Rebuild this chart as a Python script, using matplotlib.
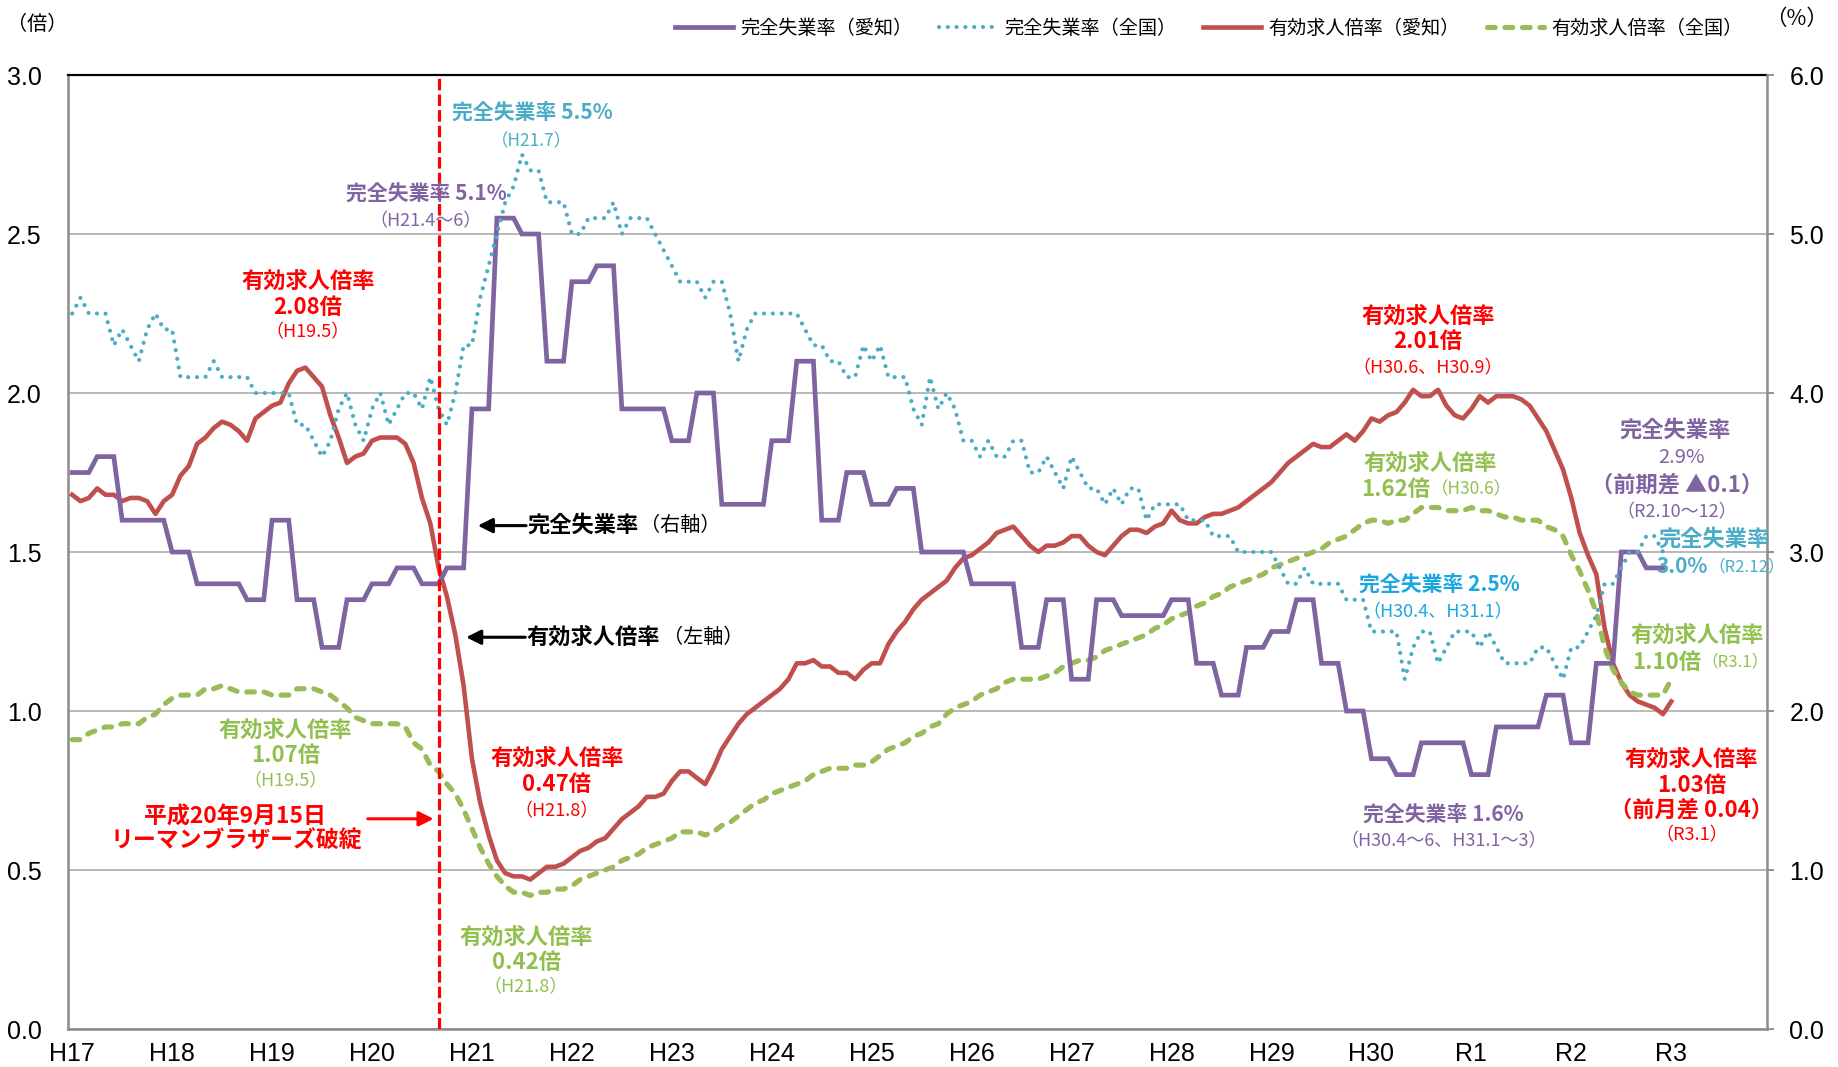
import numpy as np
import matplotlib
matplotlib.use("Agg")
import matplotlib.pyplot as plt
from matplotlib.lines import Line2D

plt.rcParams['font.family'] = ['Noto Sans CJK JP', 'DejaVu Sans']
NUM_FONT = ['Liberation Sans Narrow', 'Liberation Sans', 'DejaVu Sans']

# ── データ ──────────────────────────────────────────────
year_labels = ["H17", "H18", "H19", "H20", "H21", "H22", "H23", "H24", "H25",
               "H26", "H27", "H28", "H29", "H30", "R1", "R2", "R3"]

# 完全失業率（愛知） 四半期  H17.1-3 ～ R2.10-12 (%)
aichi_unemp_q = [3.5, 3.6, 3.2, 3.2, 3.0, 2.8, 2.8, 2.7, 3.2, 2.7, 2.4, 2.7,
                 2.8, 2.9, 2.8, 2.9, 3.9, 5.1, 5.0, 4.2, 4.7, 4.8, 3.9, 3.9,
                 3.7, 4.0, 3.3, 3.3, 3.7, 4.2, 3.2, 3.5, 3.3, 3.4, 3.0, 3.0,
                 2.8, 2.8, 2.4, 2.7, 2.2, 2.7, 2.6, 2.6, 2.7, 2.3, 2.1, 2.4,
                 2.5, 2.7, 2.3, 2.0, 1.7, 1.6, 1.8, 1.8, 1.6, 1.9, 1.9, 2.1,
                 1.8, 2.3, 3.0, 2.9]

# 完全失業率（全国） 月次 H17.1 ～ R2.12 (%)
nat_unemp = [4.5, 4.6, 4.5, 4.5, 4.5, 4.3, 4.4, 4.3, 4.2, 4.4, 4.5, 4.4,
             4.4, 4.1, 4.1, 4.1, 4.1, 4.2, 4.1, 4.1, 4.1, 4.1, 4.0, 4.0,
             4.0, 4.0, 4.0, 3.8, 3.8, 3.7, 3.6, 3.7, 3.9, 4.0, 3.8, 3.7,
             3.9, 4.0, 3.8, 3.9, 4.0, 4.0, 3.9, 4.1, 3.9, 3.8, 4.0, 4.3,
             4.3, 4.6, 4.8, 5.0, 5.2, 5.3, 5.5, 5.4, 5.4, 5.2, 5.2, 5.2,
             5.0, 5.0, 5.1, 5.1, 5.1, 5.2, 5.0, 5.1, 5.1, 5.1, 5.0, 4.9,
             4.8, 4.7, 4.7, 4.7, 4.6, 4.7, 4.7, 4.5, 4.2, 4.4, 4.5, 4.5,
             4.5, 4.5, 4.5, 4.5, 4.4, 4.3, 4.3, 4.2, 4.2, 4.1, 4.1, 4.3,
             4.2, 4.3, 4.1, 4.1, 4.1, 3.9, 3.8, 4.1, 3.9, 4.0, 3.9, 3.7,
             3.7, 3.6, 3.7, 3.6, 3.6, 3.7, 3.7, 3.5, 3.5, 3.6, 3.5, 3.4,
             3.6, 3.5, 3.4, 3.4, 3.3, 3.4, 3.3, 3.4, 3.4, 3.2, 3.3, 3.3,
             3.3, 3.3, 3.2, 3.2, 3.2, 3.1, 3.1, 3.1, 3.0, 3.0, 3.0, 3.0,
             3.0, 2.9, 2.8, 2.8, 2.9, 2.8, 2.8, 2.8, 2.8, 2.7, 2.7, 2.7,
             2.5, 2.5, 2.5, 2.5, 2.2, 2.4, 2.5, 2.5, 2.3, 2.4, 2.5, 2.5,
             2.5, 2.4, 2.5, 2.4, 2.3, 2.3, 2.3, 2.3, 2.4, 2.4, 2.3, 2.2,
             2.4, 2.4, 2.5, 2.6, 2.8, 2.8, 2.9, 3.0, 3.0, 3.1, 3.1, 3.0]

# 有効求人倍率（愛知） 月次 H17.1 ～ R3.1 (倍)
aichi_ratio = [1.68, 1.66, 1.67, 1.70, 1.68, 1.68, 1.66, 1.67, 1.67, 1.66, 1.62, 1.66,
               1.68, 1.74, 1.77, 1.84, 1.86, 1.89, 1.91, 1.90, 1.88, 1.85, 1.92, 1.94,
               1.96, 1.97, 2.03, 2.07, 2.08, 2.05, 2.02, 1.93, 1.86, 1.78, 1.80, 1.81,
               1.85, 1.86, 1.86, 1.86, 1.84, 1.78, 1.67, 1.59, 1.45, 1.36, 1.24, 1.08,
               0.85, 0.71, 0.61, 0.53, 0.49, 0.48, 0.48, 0.47, 0.49, 0.51, 0.51, 0.52,
               0.54, 0.56, 0.57, 0.59, 0.60, 0.63, 0.66, 0.68, 0.70, 0.73, 0.73, 0.74,
               0.78, 0.81, 0.81, 0.79, 0.77, 0.82, 0.88, 0.92, 0.96, 0.99, 1.01, 1.03,
               1.05, 1.07, 1.10, 1.15, 1.15, 1.16, 1.14, 1.14, 1.12, 1.12, 1.10, 1.13,
               1.15, 1.15, 1.21, 1.25, 1.28, 1.32, 1.35, 1.37, 1.39, 1.41, 1.45, 1.48,
               1.49, 1.51, 1.53, 1.56, 1.57, 1.58, 1.55, 1.52, 1.50, 1.52, 1.52, 1.53,
               1.55, 1.55, 1.52, 1.50, 1.49, 1.52, 1.55, 1.57, 1.57, 1.56, 1.58, 1.59,
               1.63, 1.60, 1.59, 1.59, 1.61, 1.62, 1.62, 1.63, 1.64, 1.66, 1.68, 1.70,
               1.72, 1.75, 1.78, 1.80, 1.82, 1.84, 1.83, 1.83, 1.85, 1.87, 1.85, 1.88,
               1.92, 1.91, 1.93, 1.94, 1.97, 2.01, 1.99, 1.99, 2.01, 1.96, 1.93, 1.92,
               1.95, 1.99, 1.97, 1.99, 1.99, 1.99, 1.98, 1.96, 1.92, 1.88, 1.82, 1.76,
               1.67, 1.56, 1.49, 1.43, 1.26, 1.15, 1.09, 1.05, 1.03, 1.02, 1.01, 0.99,
               1.03]

# 有効求人倍率（全国） 月次 H17.1 ～ R3.1 (倍)
nat_ratio = [0.91, 0.91, 0.93, 0.94, 0.95, 0.95, 0.96, 0.96, 0.96, 0.98, 0.99, 1.02,
             1.04, 1.05, 1.05, 1.05, 1.07, 1.07, 1.08, 1.07, 1.06, 1.06, 1.06, 1.06,
             1.05, 1.05, 1.05, 1.07, 1.07, 1.07, 1.06, 1.05, 1.03, 1.01, 0.98, 0.97,
             0.96, 0.96, 0.96, 0.96, 0.95, 0.90, 0.88, 0.83, 0.81, 0.77, 0.74, 0.69,
             0.63, 0.57, 0.52, 0.48, 0.45, 0.43, 0.43, 0.42, 0.43, 0.43, 0.44, 0.44,
             0.45, 0.47, 0.48, 0.49, 0.50, 0.51, 0.53, 0.54, 0.55, 0.57, 0.58, 0.59,
             0.60, 0.62, 0.62, 0.62, 0.61, 0.62, 0.64, 0.65, 0.67, 0.69, 0.71, 0.72,
             0.74, 0.75, 0.76, 0.77, 0.78, 0.80, 0.81, 0.82, 0.82, 0.82, 0.83, 0.83,
             0.84, 0.86, 0.88, 0.89, 0.90, 0.92, 0.93, 0.95, 0.96, 0.99, 1.01, 1.02,
             1.03, 1.05, 1.06, 1.07, 1.09, 1.10, 1.10, 1.10, 1.10, 1.11, 1.12, 1.14,
             1.15, 1.16, 1.16, 1.17, 1.19, 1.20, 1.21, 1.22, 1.23, 1.24, 1.26, 1.27,
             1.29, 1.30, 1.31, 1.33, 1.34, 1.36, 1.37, 1.39, 1.40, 1.41, 1.42, 1.43,
             1.45, 1.46, 1.47, 1.48, 1.49, 1.50, 1.51, 1.53, 1.54, 1.55, 1.57, 1.59,
             1.60, 1.60, 1.59, 1.60, 1.60, 1.62, 1.64, 1.64, 1.64, 1.63, 1.63, 1.63,
             1.64, 1.63, 1.63, 1.62, 1.61, 1.61, 1.60, 1.60, 1.60, 1.58, 1.57, 1.55,
             1.49, 1.44, 1.38, 1.31, 1.20, 1.13, 1.09, 1.06, 1.05, 1.05, 1.05, 1.05,
             1.10]

LEHMAN_IDX = 44   # H20.9

# 月次インデックスに展開（失業率は R3.1 が未公表）
months = np.arange(len(aichi_ratio))
aichi_unemp = np.append(np.repeat(aichi_unemp_q, 3), np.nan)
nat_unemp_m = np.append(nat_unemp, np.nan)

# ── 色 ─────────────────────────────────────────────────
C_PURPLE = "#8064A2"
C_CYAN = "#4BACC6"
C_RED = "#C0504D"
C_GREEN = "#9BBB59"
T_RED = "#FF0000"
T_GREEN = "#92C050"
T_CYAN2 = "#1AA7E0"

DOT = (0, (0.01, 2.1))
DASH = (0, (1.5, 1.9))

BIG = 16
SMALL = 13

# ── 描画 ───────────────────────────────────────────────
fig = plt.figure(figsize=(18.38, 10.67), dpi=100)
ax = fig.add_axes([0.0370, 0.0356, 0.9244, 0.8941])
ax2 = ax.twinx()

ax.plot(months, aichi_ratio, color=C_RED, lw=3.3, solid_joinstyle="round", zorder=3)
ax.plot(months, nat_ratio, color=C_GREEN, lw=3.7, ls=DASH, dash_capstyle="round", zorder=3)
ax2.plot(months, aichi_unemp, color=C_PURPLE, lw=3.4, solid_joinstyle="miter", zorder=3)
ax2.plot(months, nat_unemp_m, color=C_CYAN, lw=3.0, ls=DOT, dash_capstyle="round", zorder=3)
ax2.axvline(LEHMAN_IDX, color=T_RED, lw=2.3, ls=(0, (3.6, 1.3)), zorder=4)

ax.set_xlim(-0.5, 203.5)
ax.set_ylim(0, 3.0)
ax2.set_ylim(0, 6.0)
ax.set_yticks(np.arange(0, 3.01, 0.5))
ax.set_yticklabels([f"{v:.1f}" for v in np.arange(0, 3.01, 0.5)])
ax2.set_yticks(np.arange(0, 6.01, 1.0))
ax2.set_yticklabels([f"{v:.1f}" for v in np.arange(0, 6.01, 1.0)])
ax.set_xticks(np.arange(0, 12 * len(year_labels), 12))
ax.set_xticklabels(year_labels)

ax.grid(axis="y", color="#A6A6A6", lw=1.1)
ax.set_axisbelow(True)
ax.tick_params(axis="y", length=0, pad=19)
ax.tick_params(axis="x", length=0, pad=9)
ax2.tick_params(axis="y", length=5, width=1.3, color="#888888", pad=11)
for lbl in ax.get_yticklabels() + ax2.get_yticklabels() + ax.get_xticklabels():
    lbl.set_fontfamily(NUM_FONT)
    lbl.set_fontsize(18)

for s in ["left", "bottom"]:
    ax.spines[s].set_color("#8C8C8C")
    ax.spines[s].set_linewidth(1.8)
ax.spines["top"].set_color("black")
ax.spines["top"].set_linewidth(1.6)
ax.spines["right"].set_visible(False)
ax2.spines["right"].set_color("#8C8C8C")
ax2.spines["right"].set_linewidth(1.8)
for s in ["left", "top", "bottom"]:
    ax2.spines[s].set_visible(False)

fig.text(37 / 1838, 1 - 24 / 1067, "（倍）", ha="center", va="center", fontsize=14.5)
fig.text(1797 / 1838, 1 - 19 / 1067, "（%）", ha="center", va="center", fontsize=15.5)

# 凡例
handles = [Line2D([], [], color=C_PURPLE, lw=3.4),
           Line2D([], [], color=C_CYAN, lw=3.0, ls=DOT, dash_capstyle="round"),
           Line2D([], [], color=C_RED, lw=3.3),
           Line2D([], [], color=C_GREEN, lw=3.7, ls=DASH, dash_capstyle="round")]
labels = ["完全失業率（愛知）", "完全失業率（全国）", "有効求人倍率（愛知）", "有効求人倍率（全国）"]
fig.legend(handles, labels, loc="center left", bbox_to_anchor=(675 / 1838, 1 - 28 / 1067),
           ncol=4, frameon=False, fontsize=13.8, handlelength=3.0, handletextpad=0.4,
           columnspacing=1.4, borderpad=0, borderaxespad=0)


# ── 注記（左軸の座標で指定） ─────────────────────────────
def note(x, y, s, color, size=BIG, weight="bold", ha="center"):
    ax2.text(x, y, s, color=color, fontsize=size, fontweight=weight, ha=ha, va="center",
             transform=ax.transData, zorder=10)


def arrow(x0, x1, y, color="black"):
    ax2.annotate("", xy=(x1, y), xytext=(x0, y), xycoords=ax.transData,
                 textcoords=ax.transData,
                 arrowprops=dict(arrowstyle="-|>", color=color, lw=2.2,
                                 mutation_scale=22, shrinkA=0, shrinkB=0), zorder=10)


note(55.3, 2.882, "完全失業率 5.5%", C_CYAN, size=15)
note(55.1, 2.792, "（H21.7）", C_CYAN, size=12.5, weight="normal")
note(42.5, 2.628, "完全失業率 5.1%", C_PURPLE, size=15)
note(42.4, 2.539, "（H21.4～6）", C_PURPLE, size=SMALL, weight="normal")

note(28.3, 2.351, "有効求人倍率", T_RED)
note(28.3, 2.270, "2.08倍", T_RED)
note(28.3, 2.191, "（H19.5）", T_RED, size=SMALL, weight="normal")

arrow(54.5, 48.7, 1.583)
note(54.7, 1.583, "完全失業率", "black", ha="left")
note(68.2, 1.583, "（右軸）", "black", size=14.5, weight="normal", ha="left")
arrow(54.4, 47.3, 1.232)
note(54.6, 1.232, "有効求人倍率", "black", ha="left")
note(70.9, 1.232, "（左軸）", "black", size=14.5, weight="normal", ha="left")

note(25.6, 0.938, "有効求人倍率", T_GREEN)
note(25.6, 0.859, "1.07倍", T_GREEN)
note(25.6, 0.779, "（H19.5）", T_GREEN, size=SMALL, weight="normal")

note(19.6, 0.666, "平成20年9月15日", T_RED, size=16.5)
note(19.7, 0.589, "リーマンブラザーズ破綻", T_RED, size=16.5)
arrow(35.5, 43.4, 0.661, color=T_RED)

note(58.2, 0.851, "有効求人倍率", T_RED)
note(58.2, 0.768, "0.47倍", T_RED)
note(58.2, 0.686, "（H21.8）", T_RED, size=SMALL, weight="normal")

note(54.5, 0.288, "有効求人倍率", T_GREEN)
note(54.5, 0.208, "0.42倍", T_GREEN)
note(54.5, 0.131, "（H21.8）", T_GREEN, size=SMALL, weight="normal")

note(162.8, 2.242, "有効求人倍率", T_RED)
note(162.8, 2.163, "2.01倍", T_RED)
note(162.8, 2.079, "（H30.6、H30.9）", T_RED, size=SMALL, weight="normal")

note(163.0, 1.778, "有効求人倍率", T_GREEN)
note(163.1, 1.698, "1.62倍", T_GREEN, ha="right")
note(163.1, 1.698, "（H30.6）", T_GREEN, size=12.5, weight="normal", ha="left")

note(164.1, 1.400, "完全失業率 2.5%", T_CYAN2, size=15)
note(163.9, 1.309, "（H30.4、H31.1）", T_CYAN2, size=SMALL, weight="normal")

note(164.6, 0.677, "完全失業率 1.6%", C_PURPLE, size=15)
note(164.7, 0.589, "（H30.4～6、H31.1～3）", C_PURPLE, size=SMALL, weight="normal")

note(192.5, 1.884, "完全失業率", C_PURPLE)
note(193.2, 1.796, "2.9%", C_PURPLE, size=14.5, weight="normal")
note(192.7, 1.711, "（前期差 ▲0.1）", C_PURPLE)
note(192.6, 1.624, "（R2.10～12）", C_PURPLE, size=SMALL, weight="normal")

note(197.1, 1.541, "完全失業率", C_CYAN)
note(196.4, 1.453, "3.0%", C_CYAN, size=15, ha="right")
note(196.4, 1.453, "（R2.12）", C_CYAN, size=12, weight="normal", ha="left")

note(195.1, 1.237, "有効求人倍率", T_GREEN)
note(195.6, 1.154, "1.10倍", T_GREEN, ha="right")
note(195.6, 1.154, "（R3.1）", T_GREEN, size=12, weight="normal", ha="left")

note(194.4, 0.847, "有効求人倍率", T_RED)
note(194.4, 0.766, "1.03倍", T_RED)
note(194.4, 0.689, "（前月差 0.04）", T_RED)
note(194.4, 0.609, "（R3.1）", T_RED, size=SMALL, weight="normal")

fig.savefig("out.png", dpi=100)
